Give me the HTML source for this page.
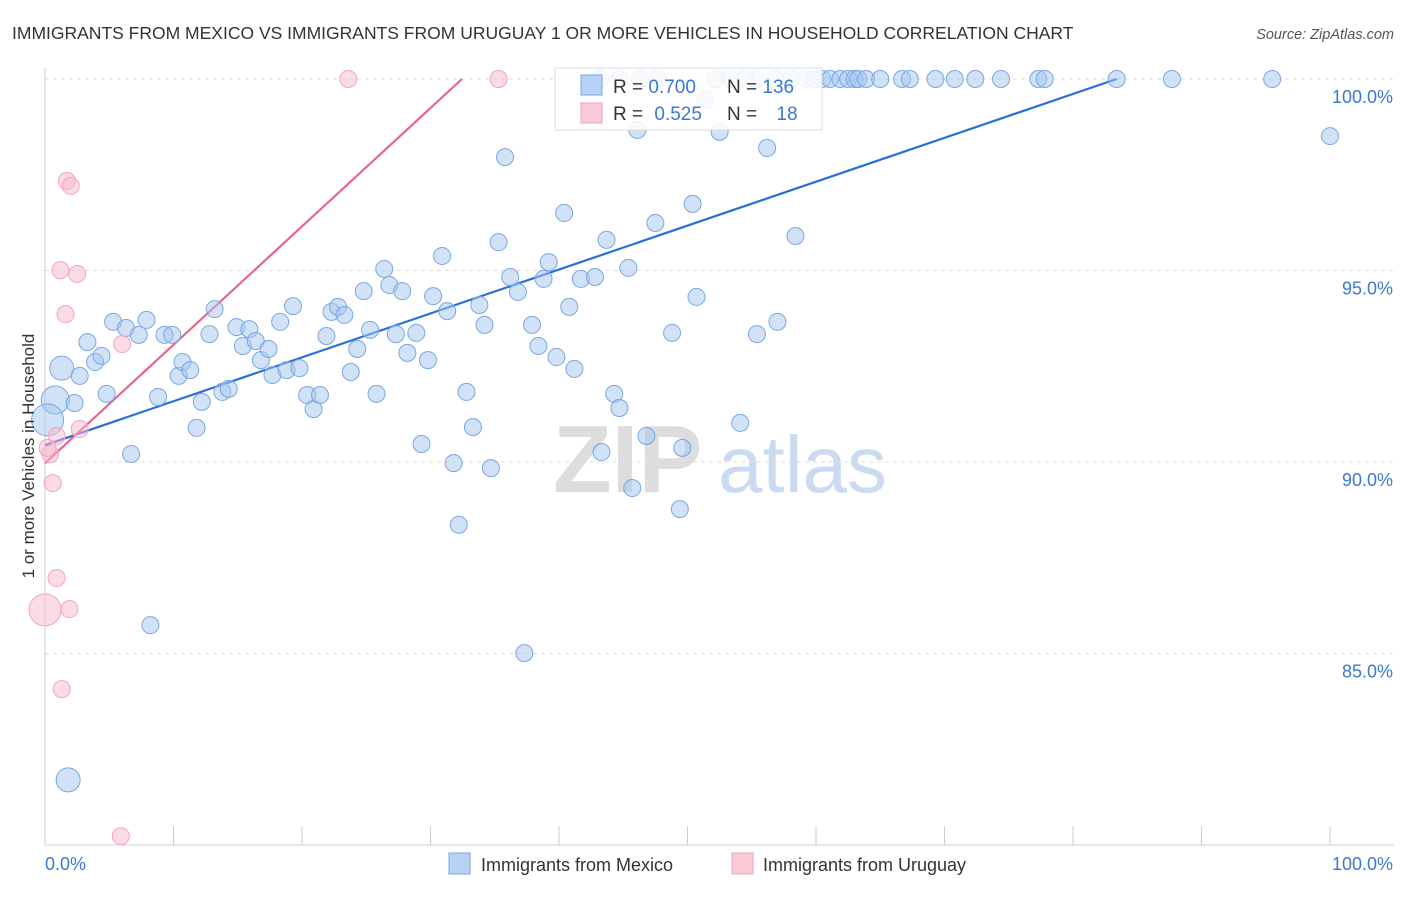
<!DOCTYPE html>
<html><head><meta charset="utf-8"><style>
body{margin:0;background:#fff;font-family:"Liberation Sans",sans-serif;}
svg text{font-family:"Liberation Sans",sans-serif;}
</style></head><body>
<svg id="chart" width="1406" height="892" xmlns="http://www.w3.org/2000/svg">
<text x="12" y="39" font-size="17.5" fill="#333">IMMIGRANTS FROM MEXICO VS IMMIGRANTS FROM URUGUAY 1 OR MORE VEHICLES IN HOUSEHOLD CORRELATION CHART</text>
<text x="1394" y="39" font-size="14.5" fill="#555" font-style="italic" text-anchor="end">Source: ZipAtlas.com</text>
<g>
<text x="553" y="492" font-size="96" font-family="Liberation Serif" fill="#ddd" font-weight="bold">ZIP</text>
<text x="718" y="492" font-size="80" fill="#c9daf1">atlas</text>
</g>
<g id="grid"></g>
<g id="axes"></g>
<g id="trend"></g>
<g id="pts"></g>
<text transform="translate(34,456) rotate(-90)" font-size="17" fill="#333" text-anchor="middle">1 or more Vehicles in Household</text>
<g>
<rect x="555" y="68" width="267" height="62" fill="#fff" fill-opacity="0.85" stroke="#ddd"/>
<rect x="581" y="75" width="21" height="20" fill="#b8d2f3" stroke="#7aa6e4"/>
<rect x="581" y="103" width="21" height="20" fill="#fbcad7" stroke="#f0a0b8"/>
<text x="613" y="93" font-size="19" fill="#333">R = <tspan fill="#3a78d4">0.700</tspan></text>
<text x="727" y="93" font-size="19" fill="#333">N = <tspan fill="#3a78d4">136</tspan></text>
<text x="613" y="120" font-size="19" fill="#333">R = <tspan fill="#3a78d4" dx="6">0.525</tspan></text>
<text x="727" y="120" font-size="19" fill="#333">N = <tspan fill="#3a78d4" dx="14">18</tspan></text>
</g>
<g>
<rect x="449" y="853" width="21" height="21" fill="#b8d2f3" stroke="#7aa6e4"/>
<text x="481" y="871" font-size="18" fill="#333">Immigrants from Mexico</text>
<rect x="732" y="853" width="21" height="21" fill="#fbcad7" stroke="#f0a0b8"/>
<text x="763" y="871" font-size="18" fill="#333">Immigrants from Uruguay</text>
</g>
</svg>
<script>
const yTicks=[100,95,90,85];
const yTickLabels=["100.0%","95.0%","90.0%","85.0%"];
const xTickLabels=["0.0%","100.0%"];
const mexicoX=[0.8,0.2,1.3,2.3,3.3,3.9,4.4,2.7,4.8,5.3,6.3,7.3,7.9,6.7,8.8,9.3,9.9,10.4,10.7,11.3,11.8,12.2,12.8,13.2,13.8,14.3,14.9,15.4,15.9,16.4,16.8,17.4,17.7,18.3,18.8,19.3,19.8,20.4,20.9,21.4,21.9,22.3,22.8,23.3,23.8,24.3,24.8,25.3,25.8,26.4,26.8,27.3,27.8,28.2,28.9,29.3,29.8,30.2,30.9,31.3,31.8,32.2,32.8,33.3,33.8,34.2,34.7,35.3,35.8,36.2,36.8,37.3,37.9,38.4,38.8,39.2,39.8,40.4,40.8,41.2,41.7,42.8,43.3,43.7,44.3,44.7,45.4,45.7,46.1,46.8,47.5,48.8,49.4,49.6,50.4,50.7,51.4,52.5,54.1,55.4,56.2,57.0,58.4,8.2,1.8,100,
43.2,44.7,46.3,47.7,52.2,53.3,54.5,55.4,56.8,58.0,59.2,59.9,60.5,61.1,61.9,62.5,63.0,63.3,63.9,65.0,66.7,67.3,69.3,70.8,72.4,74.4,77.3,77.8,83.4,87.7,95.5];
const mexicoY=[91.62,91.10,92.45,91.54,93.13,92.61,92.77,92.25,91.78,93.66,93.50,93.32,93.71,90.21,91.70,93.32,93.32,92.25,92.61,92.40,90.89,91.57,93.34,93.99,91.83,91.91,93.52,93.03,93.47,93.16,92.66,92.95,92.27,93.66,92.40,94.07,92.45,91.75,91.38,91.75,93.29,93.92,94.05,93.84,92.35,92.95,94.46,93.45,91.78,95.04,94.62,93.34,94.46,92.85,93.37,90.47,92.66,94.33,95.38,93.94,89.97,88.36,91.83,90.91,94.10,93.58,89.84,95.74,97.96,94.83,94.44,85.01,93.58,93.03,94.78,95.22,92.74,96.50,94.05,92.43,94.78,94.83,90.26,95.80,91.78,91.41,95.07,89.32,98.67,90.68,96.24,93.37,88.77,90.37,96.74,94.31,99.45,98.62,91.02,93.34,98.20,93.66,95.90,85.74,81.70,98.51,
100,100,100,100,100,100,100,100,100,100,100,100,100,100,100,100,100,100,100,100,100,100,100,100,100,100,100,100,100,100,100];
const mexicoBig=[14,16,12,0,0,0,0,0,0,0,0,0,0,0,0,0,0,0,0,0,0,0,0,0,0,0,0,0,0,0,0,0,0,0,0,0,0,0,0,0,0,0,0,0,0,0,0,0,0,0,0,0,0,0,0,0,0,0,0,0,0,0,0,0,0,0,0,0,0,0,0,0,0,0,0,0,0,0,0,0,0,0,0,0,0,0,0,0,0,0,0,0,0,0,0,0,0,0,0,0,0,0,0,0,12];
const uruguayX=[23.6,35.3,1.7,2.0,1.2,2.5,1.6,6.0,0.9,2.7,0.4,0.6,0.9,1.9,0,1.3,5.9,0.2];
const uruguayY=[100,100,97.34,97.21,95.01,94.91,93.86,93.08,90.68,90.86,90.21,89.45,86.97,86.16,86.14,84.07,80.23,90.37];
const uruguayBig=[0,0,0,0,0,0,0,0,0,0,0,0,0,0,16];
const mexicoTrend=[[0,90.44],[83.4,100]];
const uruguayTrend=[[0,89.97],[32.45,100]];
const X0=45,X1=1330,Y0=79,PER=38.3;
const sx=v=>X0+(X1-X0)*v/100;
const sy=v=>Y0+(100-v)*PER;
const NS="http://www.w3.org/2000/svg";
function mk(tag,attrs,parent){const e=document.createElementNS(NS,tag);for(const k in attrs)e.setAttribute(k,attrs[k]);parent.appendChild(e);return e;}
const grid=document.getElementById('grid'),axes=document.getElementById('axes'),trend=document.getElementById('trend'),pts=document.getElementById('pts');
yTicks.forEach((t,i)=>{
 const l=mk('line',{x1:X0,x2:1394,y1:sy(t),y2:sy(t),stroke:'#ddd','stroke-dasharray':'4,4'},grid);
 
 
 const tx=mk('text',{x:1393,y:sy(t)+24,'font-size':18,fill:'#3a78d4','text-anchor':'end'},axes);
 tx.textContent=yTickLabels[i];
 
 
});
const ax=mk('line',{x1:X0,x2:X0,y1:68,y2:845,stroke:'#ccc'},axes);


const bx=mk('line',{x1:X0,x2:1394,y1:845,y2:845,stroke:'#ccc'},axes);


for(let i=0;i<=10;i++){
 const t=mk('line',{x1:sx(i*10),x2:sx(i*10),y1:826,y2:845,stroke:'#ccc'},axes);
 
 
}
[[0,'start',45],[100,'end',1393]].forEach((d,i)=>{
 const t=mk('text',{x:d[2],y:870,'font-size':18,fill:'#3a78d4','text-anchor':d[1]},axes);
 t.textContent=xTickLabels[i];
 
 
});
function dots(xs,ys,big,fill,stroke,name){
 xs.forEach((x,i)=>{
  const r=(big[i]||8.5);
  const c=mk('circle',{cx:sx(x),cy:sy(ys[i]),r:r,fill:fill,stroke:stroke,'stroke-width':1},pts);
  
  
 });
}
dots(mexicoX,mexicoY,mexicoBig,'rgba(164,198,240,0.5)','#79a7e3','point-mexico');
dots(uruguayX,uruguayY,uruguayBig,'rgba(248,184,204,0.5)','#f2a5bd','point-uruguay');
const t1=mk('line',{x1:sx(mexicoTrend[0][0]),y1:sy(mexicoTrend[0][1]),x2:sx(mexicoTrend[1][0]),y2:sy(mexicoTrend[1][1]),stroke:'#2a6fd6','stroke-width':2.2},trend);


const t2=mk('line',{x1:sx(uruguayTrend[0][0]),y1:sy(uruguayTrend[0][1]),x2:sx(uruguayTrend[1][0]),y2:sy(uruguayTrend[1][1]),stroke:'#e8648c','stroke-width':2.2},trend);


</script>
</body></html>
